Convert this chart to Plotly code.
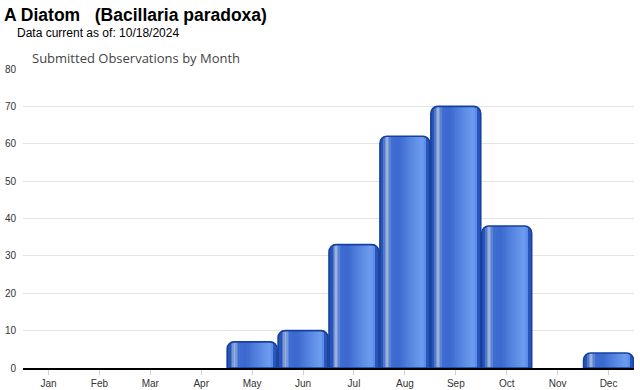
import plotly.graph_objects as go

months = ["Jan", "Feb", "Mar", "Apr", "May", "Jun", "Jul", "Aug", "Sep", "Oct", "Nov", "Dec"]
observations = [0, 0, 0, 0, 7, 10, 33, 62, 70, 38, 0, 4]
y_ticks = [0, 10, 20, 30, 40, 50, 60, 70, 80]

title_text = "A Diatom\u00a0\u00a0\u00a0(Bacillaria paradoxa)"
subtitle_text = "Data current as of: 10/18/2024"
chart_title = "Submitted Observations by Month"

BAR_W = 0.98
# gradient stops across bar width (fraction, rgb)
stops = [
    (0.00, (29, 74, 168)),
    (0.07, (45, 92, 192)),
    (0.15, (160, 180, 220)),
    (0.24, (63, 111, 210)),
    (0.38, (58, 104, 207)),
    (0.62, (85, 133, 224)),
    (0.86, (110, 157, 240)),
    (0.94, (80, 128, 226)),
    (1.00, (29, 74, 168)),
]


def color_at(f):
    for (f0, c0), (f1, c1) in zip(stops[:-1], stops[1:]):
        if f0 <= f <= f1:
            t = (f - f0) / (f1 - f0) if f1 > f0 else 0
            c = [round(a + (b - a) * t) for a, b in zip(c0, c1)]
            return "rgb(%d,%d,%d)" % tuple(c)
    return "rgb(%d,%d,%d)" % stops[-1][1]


visible_vals = [v if v else None for v in observations]

fig = go.Figure()

# base bar
fig.add_trace(go.Bar(
    x=months, y=visible_vals, width=BAR_W,
    marker=dict(color="rgb(40,86,184)", cornerradius=7, line=dict(width=0)),
    hoverinfo="skip", showlegend=False,
))

# gradient slices
N = 28
lo, hi = 0.08, 0.92
for i in range(N):
    f0 = lo + (hi - lo) * i / N
    f1 = lo + (hi - lo) * (i + 1) / N
    fm = (f0 + f1) / 2
    fig.add_trace(go.Bar(
        x=months, y=visible_vals,
        width=BAR_W * (f1 - f0) * 1.02,
        offset=-BAR_W / 2 + BAR_W * f0,
        marker=dict(color=color_at(fm), line=dict(width=0)),
        hoverinfo="skip", showlegend=False,
    ))

# outline
fig.add_trace(go.Bar(
    x=months, y=visible_vals, width=BAR_W,
    marker=dict(color="rgba(0,0,0,0)", cornerradius=7,
                line=dict(width=1.6, color="rgb(22,64,160)")),
    showlegend=False,
))

fig.update_layout(
    width=640, height=390,
    barmode="overlay",
    paper_bgcolor="white", plot_bgcolor="white",
    margin=dict(l=23, r=6, t=69, b=22),
    font=dict(family="Liberation Sans, Arial, sans-serif", color="#444"),
    xaxis=dict(
        type="category", categoryorder="array", categoryarray=months,
        range=[-0.5, 11.5], automargin=False,
        showline=True, linecolor="black", linewidth=1.5,
        ticks="outside", ticklen=5, tickcolor="#d0d0d0", tickwidth=1,
        tickfont=dict(size=10, color="#333"),
        showgrid=False, fixedrange=True,
    ),
    yaxis=dict(
        range=[0, 80], tickvals=y_ticks, automargin=False,
        showgrid=True, gridcolor="#e3e3e3", gridwidth=1,
        zeroline=False, showline=False,
        tickfont=dict(size=10, color="#333"),
        ticklabelstandoff=6, fixedrange=True,
    ),
    annotations=[
        dict(text="<b>" + title_text + "</b>", xref="paper", yref="paper",
             x=(2 - 23) / 611, y=(368 - 15) / 299, xanchor="left", yanchor="middle",
             showarrow=False, font=dict(size=17.5, color="black", family="Liberation Sans, Arial")),
        dict(text=subtitle_text, xref="paper", yref="paper",
             x=(15 - 23) / 611, y=(368 - 33) / 299, xanchor="left", yanchor="middle",
             showarrow=False, font=dict(size=12, color="black", family="Liberation Sans, Arial")),
        dict(text=chart_title, xref="paper", yref="paper",
             x=(30 - 23) / 611, y=(368 - 58) / 299, xanchor="left", yanchor="middle",
             showarrow=False, font=dict(size=13, color="#444", family="Open Sans, sans-serif")),
    ],
)

fig.write_html("out.html", config={"displayModeBar": False})

# remove default page margin so the figure sits at the window's top-left corner
with open("out.html", "r", encoding="utf-8") as fh:
    html = fh.read()
html = html.replace("<head>", "<head><style>html,body{margin:0;padding:0;overflow:hidden;}</style>", 1)
with open("out.html", "w", encoding="utf-8") as fh:
    fh.write(html)
